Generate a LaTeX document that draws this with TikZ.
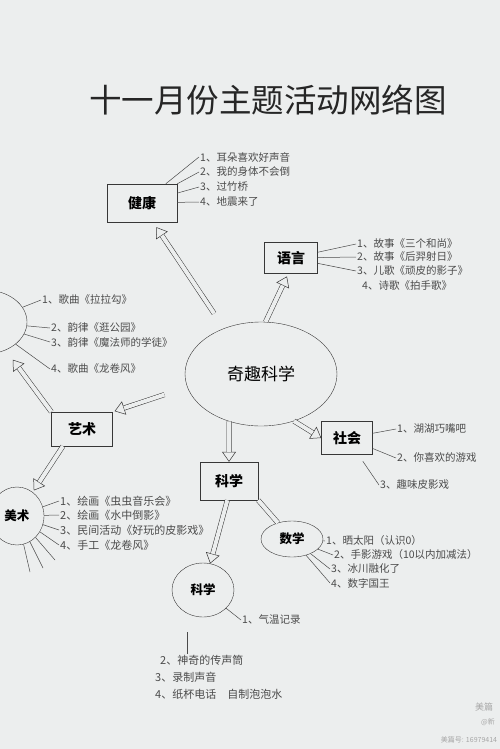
\documentclass[tikz,border=0pt]{standalone}
\usepackage{fontspec}
\setmainfont{Noto Sans CJK SC}
\usetikzlibrary{shapes,positioning,arrows.meta}
\definecolor{paper}{RGB}{236,238,238}
\definecolor{ink}{RGB}{55,55,55}

\begin{document}
\begin{tikzpicture}[x=1pt,y=-1pt]
	\tikzstyle{topicbox} = [rectangle, draw=ink, fill=paper, font=\fontsize{14}{14}\selectfont\bfseries]
	\tikzstyle{topicoval} = [ellipse, draw=ink, fill=paper, inner sep=0pt, font=\fontsize{12.5}{12.5}\selectfont\bfseries]
	\tikzstyle{item} = [anchor=west, inner sep=1pt, text=ink!90, font=\fontsize{10.5}{11}\selectfont]
	\tikzstyle{branch} = [draw=ink!90, line width=0.5pt]
	\tikzstyle{hollowtip} = [draw=ink, line width=0.5pt, -{Triangle[open,length=10pt,width=14pt]}]
	\tikzstyle{hollowshaft} = [draw=ink, line width=0.5pt, double=paper, double distance=4pt]
	
	\useasboundingbox (0,0) rectangle (500,749);
	\fill[paper] (0,0) rectangle (500,749);
	\clip (0,0) rectangle (500,749);
	
	\node (title) at (268,100) [text=black!85, font=\fontsize{32.5}{33}\selectfont]{十一月份主题活动网络图};
	
	\node (qq) at (261,374) [topicoval, minimum width=152, minimum height=104, font=\fontsize{17}{17}\selectfont]{奇趣科学};
	
	\node (jk) at (142,203) [topicbox, minimum width=70, minimum height=38]{健康};
	\node (jk1) at (199,157) [item]{1、耳朵喜欢好声音};
	\node (jk2) at (199,172) [item]{2、我的身体不会倒};
	\node (jk3) at (199,187) [item]{3、过竹桥};
	\node (jk4) at (199,202) [item]{4、地震来了};
	
	\node (yy) at (291,258) [topicbox, minimum width=53, minimum height=31]{语言};
	\node (yy1) at (356,244) [item]{1、故事《三个和尚》};
	\node (yy2) at (356,257) [item]{2、故事《后羿射日》};
	\node (yy3) at (356,271) [item]{3、儿歌《顽皮的影子》};
	\node (yy4) at (361,286) [item]{4、诗歌《拍手歌》};
	
	\node (yl) at (-15,322) [topicoval, minimum width=84, minimum height=64]{};
	\node (yl1) at (41,300) [item]{1、歌曲《拉拉勾》};
	\node (yl2) at (50,328) [item]{2、韵律《逛公园》};
	\node (yl3) at (50,342) [item]{3、韵律《魔法师的学徒》};
	\node (yl4) at (50,369) [item]{4、歌曲《龙卷风》};
	
	\node (ys) at (82,429) [topicbox, minimum width=61, minimum height=34]{艺术};
	
	\node (ms) at (17,516) [topicoval, minimum width=54, minimum height=58]{美术};
	\node (ms1) at (59,501) [item, font=\fontsize{11}{11}\selectfont]{1、绘画《虫虫音乐会》};
	\node (ms2) at (59,515) [item, font=\fontsize{11}{11}\selectfont]{2、绘画《水中倒影》};
	\node (ms3) at (59,530) [item, font=\fontsize{11}{11}\selectfont]{3、民间活动《好玩的皮影戏》};
	\node (ms4) at (59,545) [item, font=\fontsize{11}{11}\selectfont]{4、手工《龙卷风》};
	\coordinate (ms5) at (30,572);
	\coordinate (ms6) at (43,568);
	\coordinate (ms7) at (55,560);
	
	\node (sh) at (347,438) [topicbox, minimum width=51, minimum height=33]{社会};
	\node (sh1) at (396,429) [item]{1、湖湖巧嘴吧};
	\node (sh2) at (396,458) [item]{2、你喜欢的游戏};
	\node (sh3) at (379,485) [item]{3、趣味皮影戏};
	
	\node (kx) at (229,481) [topicbox, minimum width=58, minimum height=38]{科学};
	
	\node (sx) at (292,539) [topicoval, minimum width=62, minimum height=36]{数学};
	\node (sx1) at (325,541) [item]{1、晒太阳（认识0）};
	\node (sx2) at (333,555) [item]{2、手影游戏（10以内加减法）};
	\node (sx3) at (330,569) [item]{3、冰川融化了};
	\node (sx4) at (330,583) [item]{4、数字国王};
	
	\node (kk) at (203,590) [topicoval, minimum width=62, minimum height=54]{科学};
	\node (kk1) at (241,620) [item]{1、气温记录};
	\node (kk2) at (159,660) [item, font=\fontsize{11}{11}\selectfont]{2、神奇的传声筒};
	\node (kk3) at (154,677) [item, font=\fontsize{11}{11}\selectfont]{3、录制声音};
	\node (kk4) at (154,694) [item, font=\fontsize{11}{11}\selectfont]{4、纸杯电话\quad 自制泡泡水};
	\coordinate (kks) at (187,632);
	
	\node (mp) at (484,707) [text=gray!70, font=\fontsize{9}{9}\selectfont]{美篇};
	\node (mpa) at (488,722) [text=gray!70, font=\fontsize{7}{7}\selectfont]{@新};
	\node (mpn) at (469,740) [text=gray!70, font=\fontsize{7}{7}\selectfont]{美篇号: 16979414};
	
	%Arrows
	\draw[hollowtip, shorten <=18pt, shorten >=6pt] (qq.129) -- (jk.-60);
	\draw[hollowshaft, shorten <=18pt, shorten >=16pt] (qq.129) -- (jk.-60);
	\draw[hollowtip, shorten >=3pt] (qq.85) -- (yy.260);
	\draw[hollowshaft, shorten >=13pt] (qq.85) -- (yy.260);
	\draw[hollowtip, shorten <=24pt, shorten >=2pt] (qq.190) -- (ys.north east);
	\draw[hollowshaft, shorten <=24pt, shorten >=12pt] (qq.190) -- (ys.north east);
	\draw[hollowtip, shorten >=12pt] (ys.north west) -- (yl);
	\draw[hollowshaft, shorten >=22pt] (ys.north west) -- (yl);
	\draw[hollowtip, shorten >=2pt] (ys.222) -- (ms);
	\draw[hollowshaft, shorten >=12pt] (ys.222) -- (ms);
	\draw[hollowtip] (qq.236) -- (kx.north);
	\draw[hollowshaft, shorten >=10pt] (qq.236) -- (kx.north);
	\draw[hollowtip] (qq.305) -- (sh.west);
	\draw[hollowshaft, shorten >=10pt] (qq.305) -- (sh.west);
	\draw[hollowtip] (kx.265) -- (kk);
	\draw[hollowshaft, shorten >=10pt] (kx.265) -- (kk);
	\draw[hollowshaft] (kx.south east) -- (sx);
	
	%items
	\draw[branch] (jk) -- (jk1.west);
	\draw[branch] (jk) -- (jk2.west);
	\draw[branch] (jk) -- (jk3.west);
	\draw[branch] (jk) -- (jk4.west);
	\draw[branch] (yy) -- (yy1.west);
	\draw[branch] (yy) -- (yy2.west);
	\draw[branch] (yy) -- (yy3.west);
	\draw[branch] (yl) -- (yl1.west);
	\draw[branch] (yl) -- (yl2.west);
	\draw[branch] (yl) -- (yl3.west);
	\draw[branch] (yl) -- (yl4.west);
	\draw[branch] (ms) -- (ms1.west);
	\draw[branch] (ms) -- (ms2.west);
	\draw[branch] (ms) -- (ms3.west);
	\draw[branch] (ms) -- (ms4.west);
	\draw[branch] (ms) -- (ms5);
	\draw[branch] (ms) -- (ms6);
	\draw[branch] (ms) -- (ms7);
	\draw[branch] (sh) -- (sh1.west);
	\draw[branch] (sh) -- (sh2.west);
	\draw[branch, shorten <=8pt] (sh) -- (sh3.west);
	\draw[branch] (sx) -- (sx1.west);
	\draw[branch] (sx) -- (sx2.west);
	\draw[branch] (sx) -- (sx3.west);
	\draw[branch] (sx) -- (sx4.west);
	\draw[branch] (kk) -- (kk1.west);
	\draw[branch] (kks) -- (kks |- kk2.north);
	
\end{tikzpicture}
\end{document}
